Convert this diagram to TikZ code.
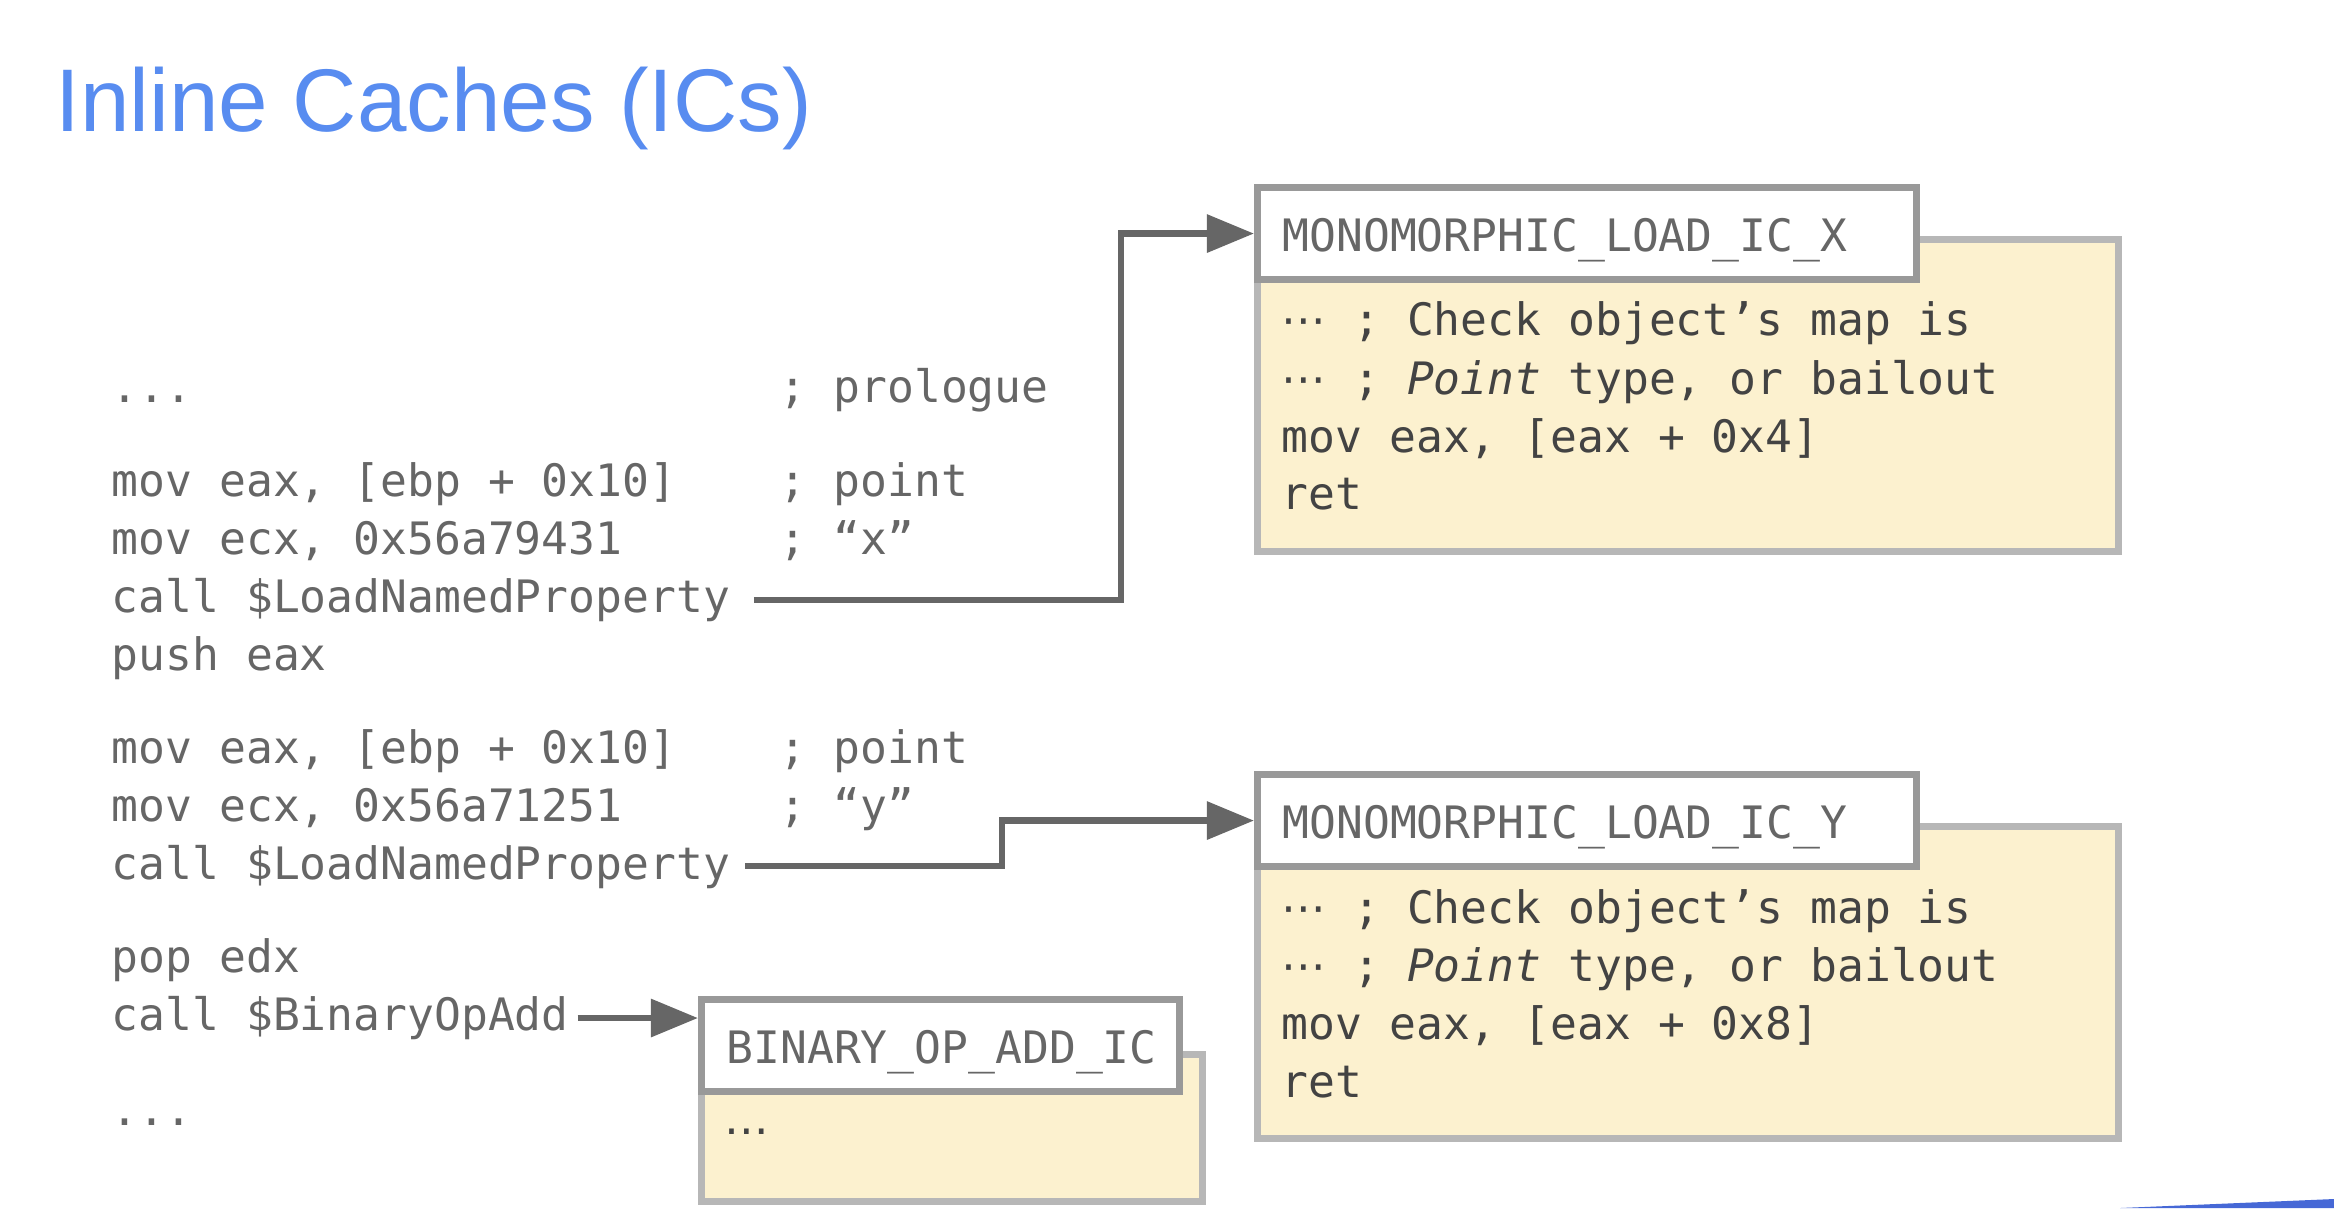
\documentclass[tikz,border=0pt]{standalone}
\usepackage{fontspec}
\usetikzlibrary{arrows.meta}
\newfontfamily\titlefont{Liberation Sans}
\newfontfamily\codefont{DejaVu Sans Mono}
\newfontfamily\dotsfont{DejaVu Sans}
\definecolor{titleblue}{RGB}{88,140,240}
\definecolor{codegray}{RGB}{102,102,102}
\definecolor{bodytext}{RGB}{67,67,67}
\definecolor{boxgray}{RGB}{153,153,153}
\definecolor{bodygray}{RGB}{183,183,183}
\definecolor{icyellow}{RGB}{252,241,207}
\definecolor{swoosh}{RGB}{70,104,214}
\newcommand{\midots}{{\dotsfont ⋯}}
\newcommand{\lowdots}{{\dotsfont …}}
\tikzset{
  asm/.style={font=\codefont\fontsize{12.7pt}{16pt}\selectfont, text=codegray, anchor=base west, inner sep=0pt},
  ichead/.style={draw=boxgray, line width=2pt, fill=white, anchor=north west, inner xsep=0.25cm, inner ysep=0pt,
    text height=0.64cm, text depth=0.28cm, align=left, font=\codefont\fontsize{12.7pt}{16pt}\selectfont, text=codegray},
  icbody/.style={draw=bodygray, line width=2pt, fill=icyellow, anchor=north west, inner sep=0pt},
  callarrow/.style={draw=codegray, line width=1.9pt, -{Triangle[length=13.4pt,width=10.5pt]}}
}
\begin{document}
\begin{tikzpicture}[x=0.01cm, y=-0.01cm]
\useasboundingbox (0,0) rectangle (2334,1208);
\node[font=\titlefont\fontsize{25.3pt}{30pt}\selectfont, text=titleblue, anchor=base west, inner sep=0pt] (title) at (55,131) {Inline Caches (ICs)};
\foreach \y/\line [count=\i] in {402/{...}, 496/{mov eax, [ebp + 0x10]}, 554/{mov ecx, 0x56a79431}, 612/{call \$LoadNamedProperty}, 670/{push eax},
  763/{mov eax, [ebp + 0x10]}, 821/{mov ecx, 0x56a71251}, 879/{call \$LoadNamedProperty}, 972/{pop edx}, 1030/{call \$BinaryOpAdd}, 1125/{...}}
  \node[asm] (line\i) at (111,\y) {\line};
\foreach \y/\note [count=\i] in {402/{; prologue}, 496/{; point}, 554/{; “x”}, 763/{; point}, 821/{; “y”}}
  \node[asm] (note\i) at (779,\y) {\note};
\node[icbody, minimum width=8.6cm, minimum height=3.12cm] (bodyx) at (1254,236) {};
\node[ichead, text width=6.09cm] (icx) at (1254,184) {MONOMORPHIC\_LOAD\_IC\_X};
\foreach \y/\line [count=\i] in {335/{\midots{} ; Check object’s map is}, 394/{\midots{} ; \textit{Point} type, or bailout}, 452/{mov eax, [eax + 0x4]}, 509/{ret}}
  \node[asm, text=bodytext] (x\i) at (1281,\y) {\line};
\node[icbody, minimum width=8.6cm, minimum height=3.12cm] (bodyy) at (1254,823) {};
\node[ichead, text width=6.09cm] (icy) at (1254,771) {MONOMORPHIC\_LOAD\_IC\_Y};
\foreach \y/\line [count=\i] in {923/{\midots{} ; Check object’s map is}, 981/{\midots{} ; \textit{Point} type, or bailout}, 1039/{mov eax, [eax + 0x8]}, 1097/{ret}}
  \node[asm, text=bodytext] (y\i) at (1281,\y) {\line};
\node[icbody, minimum width=5.01cm, minimum height=1.47cm] (bodyadd) at (698,1051) {};
\node[ichead, text width=4.28cm] (icadd) at (698,996) {BINARY\_OP\_ADD\_IC};
\node[asm, text=bodytext] (add1) at (724,1134) {\lowdots};
\draw[callarrow] ([shift={(23,-12)}]line4.base east) -- ++(367,0) |- (icx.west);
\draw[callarrow] ([shift={(14,-13)}]line8.base east) -- ++(257,0) |- (icy.west);
\draw[callarrow] ([shift={(8,-12)}]line10.base east) coordinate (addfrom) -- (addfrom -| icadd.west);
\fill[swoosh] (2120,1208) -- (2334,1199) -- (2334,1208) -- cycle;
\end{tikzpicture}
\end{document}
